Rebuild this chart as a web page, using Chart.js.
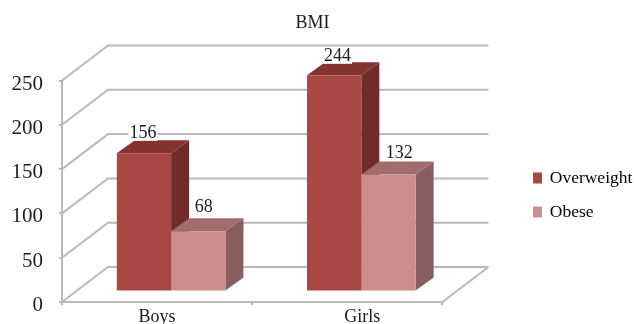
<!DOCTYPE html>
<html>
<head>
<meta charset="utf-8">
<title>BMI</title>
<script src="https://cdn.jsdelivr.net/npm/chart.js@4"></script>
<style>
  html, body { margin: 0; padding: 0; background: #fff; }
  canvas { display: block; }
</style>
</head>
<body>
<canvas id="bmiChart" width="634" height="324"></canvas>
<script>
"use strict";

const categories = ["Boys", "Girls"];
const overweightValues = [156, 244];
const obeseValues = [68, 132];

const SERIF = '"Liberation Serif", "Times New Roman", serif';
const INK = "#1c1c1c";
const WALL = "#b9b9b9";

// wall depth, and how far the bars stand in front of the back wall
const WALL_DX = 46;
const WALL_DY = -35;
const BAR_SHIFT_X = 14;
const BAR_SHIFT_Y = -10.5;
const BAR_DX = 18;
const BAR_DY = -13;

const faces = [
  { front: "#a94744", side: "#702c2a", top: "#843332" },
  { front: "#cd8d8c", side: "#875e5d", top: "#a06d6c" },
];

// hand placement of the value labels, per dataset and category
const labelNudge = [
  [[-1, -20.5], [3.3, -19.5]],
  [[5.4, -24], [10.7, -21.5]],
];
const categoryLabelNudge = [0, 15];

function quad(ctx, color, pts) {
  ctx.fillStyle = color;
  ctx.beginPath();
  pts.forEach(([x, y], i) => (i ? ctx.lineTo(x, y) : ctx.moveTo(x, y)));
  ctx.closePath();
  ctx.fill();
}

function drawWalls(chart) {
  const { ctx, scales } = chart;
  const y = scales.y;
  const left = scales.x.left;
  const right = scales.x.right;
  ctx.save();
  ctx.strokeStyle = WALL;
  ctx.lineWidth = 2;
  ctx.beginPath();
  y.ticks.forEach((t) => {
    const py = y.getPixelForValue(t.value);
    ctx.moveTo(left, py);
    ctx.lineTo(left + WALL_DX, py + WALL_DY);
    ctx.lineTo(right + WALL_DX, py + WALL_DY);
  });
  const floor = y.getPixelForValue(0);
  ctx.moveTo(right, floor);
  ctx.lineTo(right + WALL_DX, floor + WALL_DY);
  ctx.stroke();
  ctx.restore();
}

function drawBars(chart) {
  const { ctx } = chart;
  // first series first, so the next bar's front covers its side face
  chart.data.datasets.forEach((ds, d) => {
    const meta = chart.getDatasetMeta(d);
    const f = faces[d];
    ctx.save();
    ctx.translate(BAR_SHIFT_X, BAR_SHIFT_Y);
    meta.data.forEach((bar) => {
      const x1 = bar.x - bar.width / 2;
      const x2 = bar.x + bar.width / 2;
      quad(ctx, f.side, [
        [x2, bar.y],
        [x2, bar.base],
        [x2 + BAR_DX, bar.base + BAR_DY],
        [x2 + BAR_DX, bar.y + BAR_DY],
      ]);
      quad(ctx, f.top, [
        [x1, bar.y],
        [x2, bar.y],
        [x2 + BAR_DX, bar.y + BAR_DY],
        [x1 + BAR_DX, bar.y + BAR_DY],
      ]);
      bar.draw(ctx);
    });
    ctx.restore();
  });
}

function drawTexts(chart) {
  const { ctx, scales } = chart;
  ctx.save();
  ctx.font = "18px " + SERIF;
  ctx.textAlign = "center";
  ctx.textBaseline = "middle";

  // value labels on their white patches
  chart.data.datasets.forEach((ds, d) => {
    chart.getDatasetMeta(d).data.forEach((bar, i) => {
      const [nx, ny] = labelNudge[d][i];
      const cx = bar.x + BAR_SHIFT_X + nx;
      const cy = bar.y + BAR_SHIFT_Y + ny;
      const text = String(ds.data[i]);
      const w = ctx.measureText(text).width;
      ctx.fillStyle = "#fff";
      ctx.fillRect(cx - w / 2 - 1, cy - 7, w + 2, 15);
      ctx.fillStyle = INK;
      ctx.fillText(text, cx, cy);
    });
  });

  // category names under the floor
  ctx.textBaseline = "alphabetic";
  categories.forEach((name, i) => {
    ctx.fillText(name, scales.x.getPixelForTick(i) + categoryLabelNudge[i], 322);
  });
  ctx.restore();
}

const depthPlugin = {
  id: "depth",
  afterLayout(chart) {
    // legend and title sit independently of the plot area
    const legend = chart.legend;
    const dx = 534 - 16.5 - legend.left;
    legend.left += dx;
    legend.right += dx;
    legend.top += 33;
    legend.bottom += 33;
    chart.titleBlock.left = 0;
    chart.titleBlock.right = 625;
  },
  beforeDatasetsDraw(chart) {
    drawWalls(chart);
    drawBars(chart);
    drawTexts(chart);
    return false;
  },
};

new Chart(document.getElementById("bmiChart"), {
  type: "bar",
  data: {
    labels: categories,
    datasets: [
      { label: "Overweight", data: overweightValues, backgroundColor: faces[0].front },
      { label: "Obese", data: obeseValues, backgroundColor: faces[1].front },
    ],
  },
  options: {
    responsive: false,
    animation: false,
    layout: { padding: { left: 0, top: 0, bottom: 0, right: 66.7 } },
    datasets: { bar: { categoryPercentage: 0.571, barPercentage: 1 } },
    scales: {
      x: {
        afterFit(scale) {
          scale.height = 22;
          scale.paddingLeft = 0;
          scale.paddingRight = 0;
        },
        grid: { drawOnChartArea: false, color: WALL, lineWidth: 2, tickLength: 3 },
        border: { color: WALL, width: 2 },
        ticks: { display: false },
      },
      y: {
        min: 0,
        max: 250,
        afterFit(scale) {
          scale.width = 62;
          scale.paddingTop = 0;
          scale.paddingBottom = 0;
        },
        grid: { drawOnChartArea: false, color: WALL, lineWidth: 2, tickLength: 3 },
        border: { color: WALL, width: 2 },
        ticks: {
          stepSize: 50,
          padding: 16,
          color: INK,
          labelOffset: 3.5,
          font: { family: SERIF, size: 21 },
        },
      },
    },
    plugins: {
      title: {
        display: true,
        text: "BMI",
        color: INK,
        font: { family: SERIF, size: 18, weight: "normal" },
        padding: { top: 12, bottom: 46.9 },
      },
      legend: {
        position: "right",
        labels: {
          boxWidth: 7,
          boxHeight: 9,
          padding: 16.5,
          color: INK,
          font: { family: SERIF, size: 17.5 },
          generateLabels(chart) {
            return chart.data.datasets.map((ds, i) => ({
              text: ds.label,
              fillStyle: ds.backgroundColor,
              strokeStyle: ds.backgroundColor,
              lineWidth: 2,
              datasetIndex: i,
            }));
          },
        },
      },
      tooltip: { enabled: false },
    },
  },
  plugins: [depthPlugin],
});
</script>
</body>
</html>
